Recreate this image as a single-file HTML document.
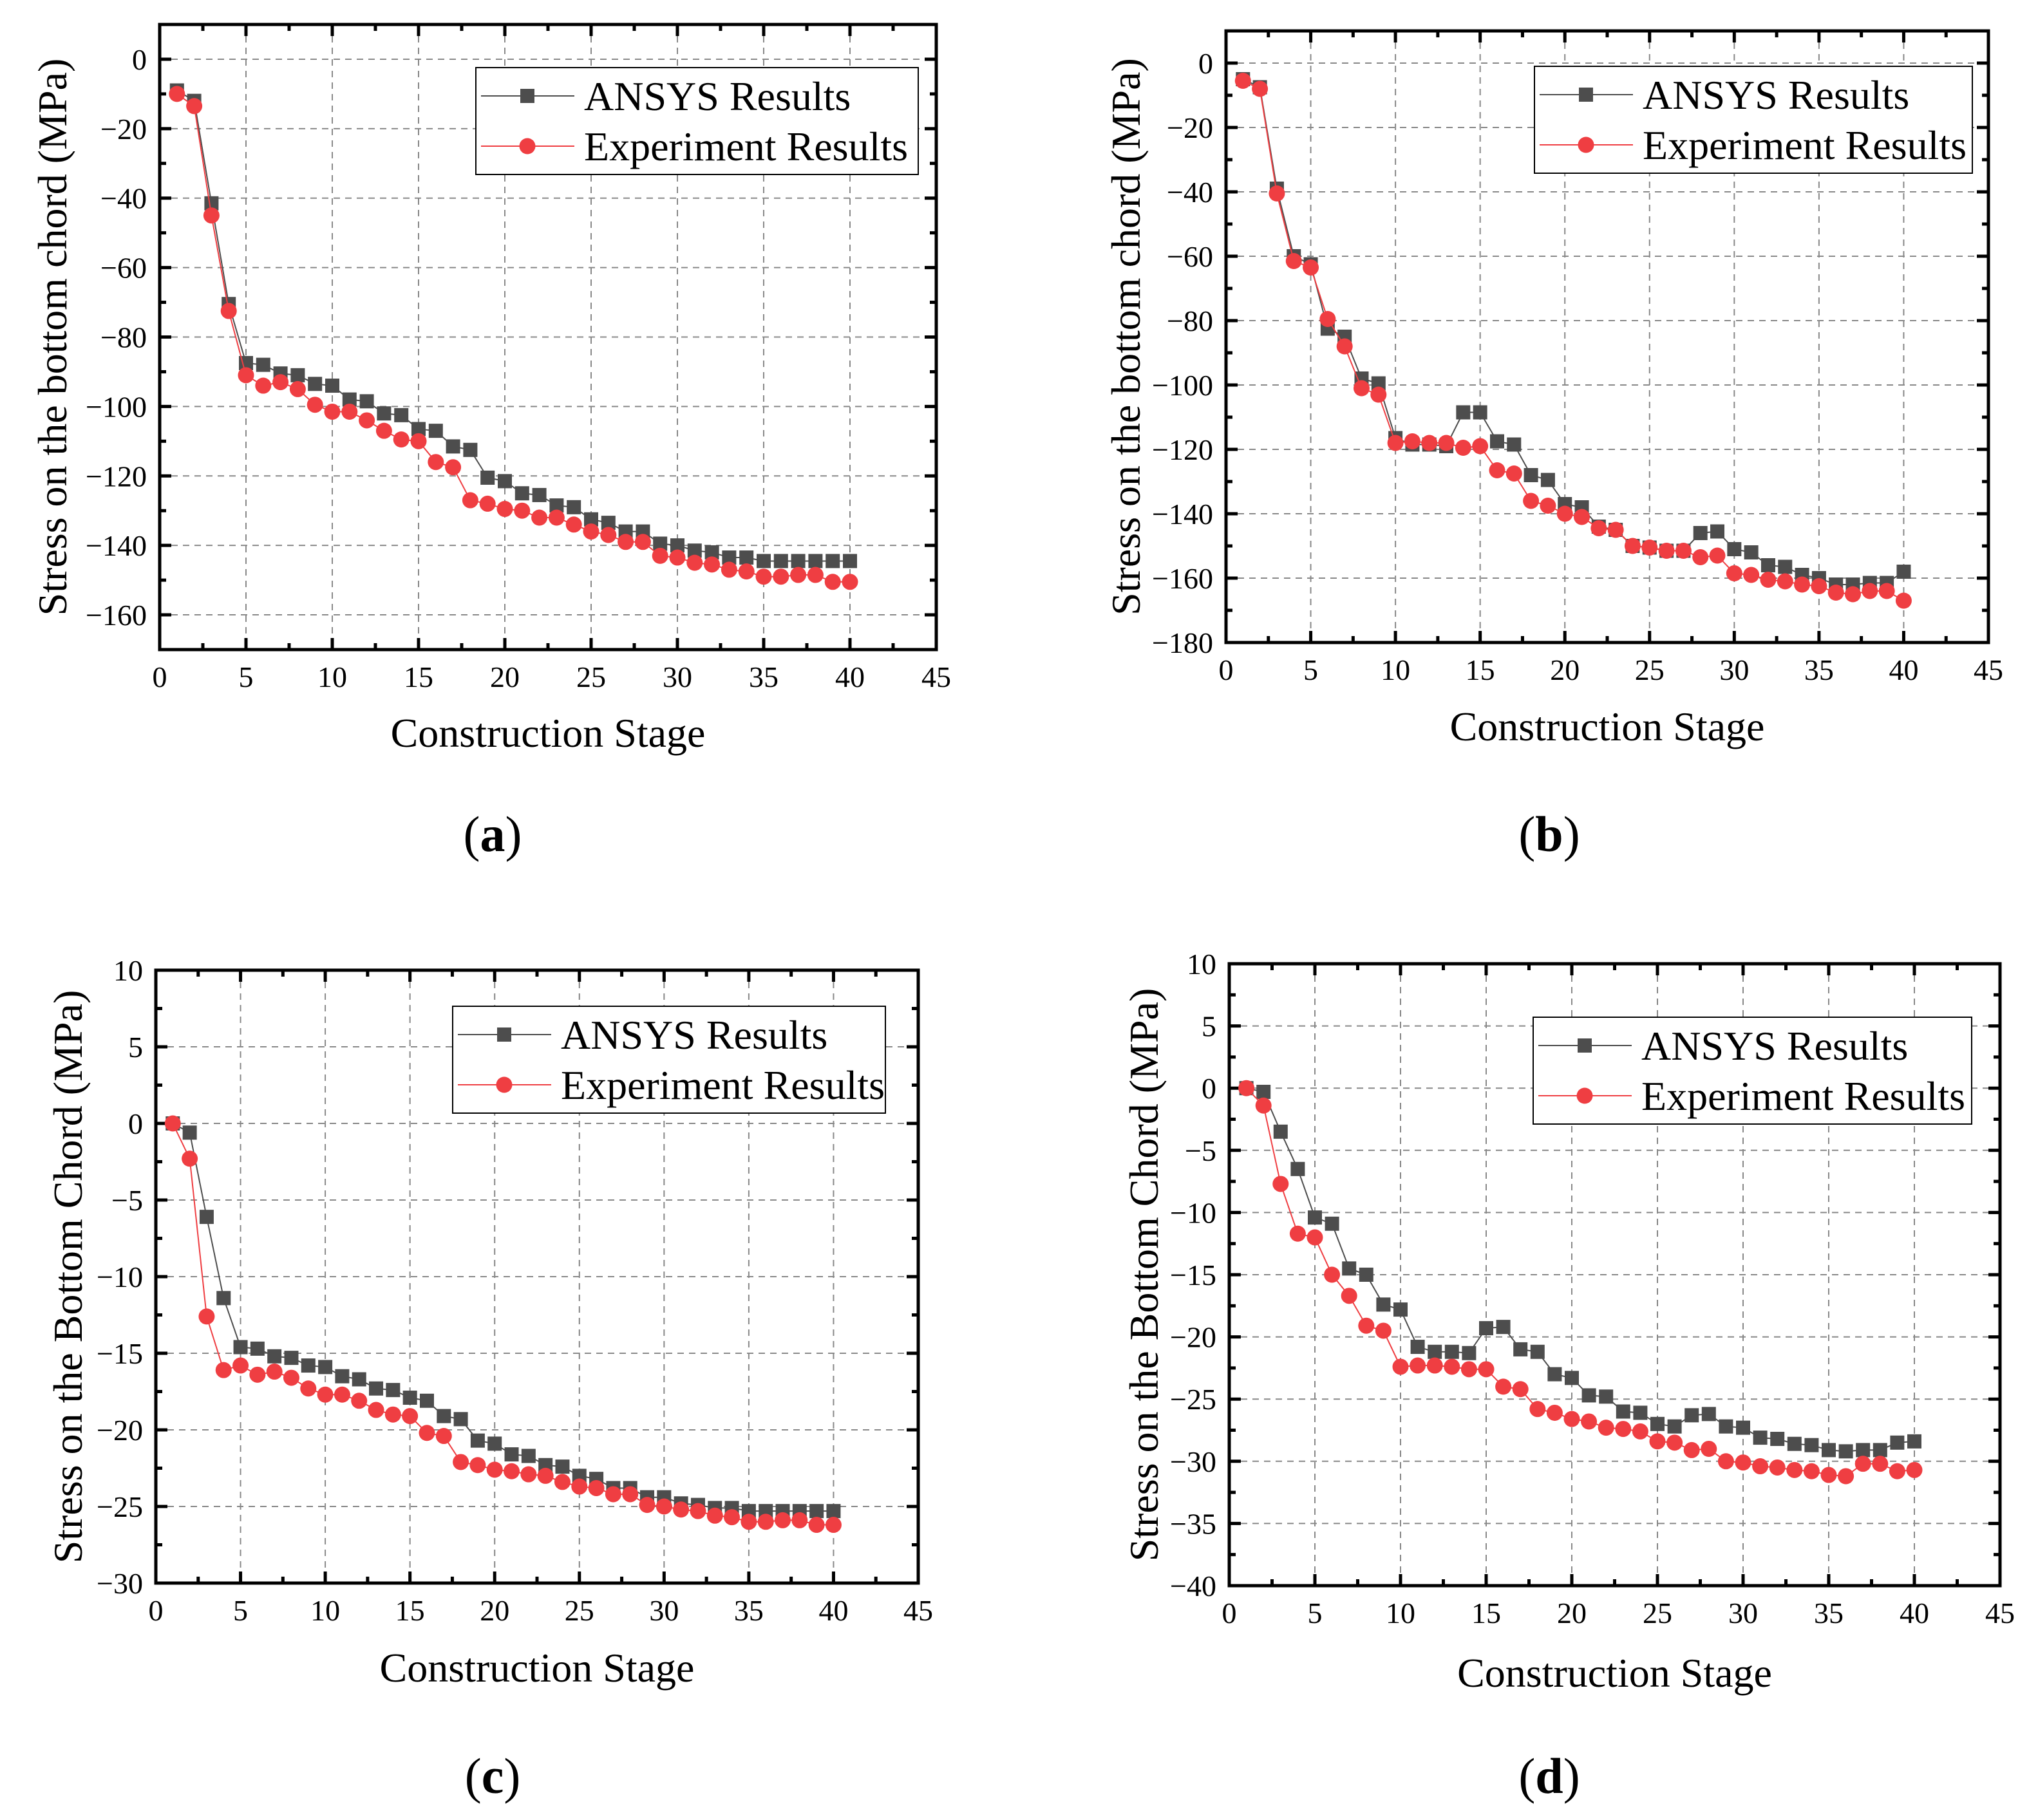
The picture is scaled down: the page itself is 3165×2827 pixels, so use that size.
<!DOCTYPE html>
<html><head><meta charset="utf-8">
<style>
html,body{margin:0;padding:0;background:#fff;}
svg{display:block;font-family:"Liberation Serif",serif;}
</style></head>
<body>
<svg id="fig" width="3165" height="2827" viewBox="0 0 3165 2827" xmlns="http://www.w3.org/2000/svg"></svg>
<script>
const stages = [];
for (let i = 1; i <= 40; i++) stages.push(i);
const ansysA = [-9,-12,-41.5,-70.5,-87.5,-88,-90.5,-91,-93.5,-94,-98,-98.5,-102,-102.5,-106.5,-107,-111.5,-112.5,-120.5,-121.5,-125,-125.5,-128.5,-129,-132.5,-133.5,-136,-136,-139.5,-140,-141.5,-142,-143.5,-143.5,-144.5,-144.5,-144.5,-144.5,-144.5,-144.5];
const expA = [-10,-13.5,-45,-72.5,-91,-94,-93,-95,-99.5,-101.5,-101.5,-104,-107,-109.5,-110,-116,-117.5,-127,-128,-129.5,-130,-132,-132,-134,-136,-137,-139,-139,-143,-143.5,-145,-145.5,-147,-147.5,-149,-149,-148.5,-148.5,-150.5,-150.5];
const ansysB = [-5,-7.5,-39,-60,-62.5,-82.5,-85,-98,-99.5,-116.5,-118.5,-118.5,-119,-108.5,-108.5,-117.5,-118.5,-128,-129.5,-137,-138,-144,-145,-150,-150.5,-151.5,-151.5,-146,-145.5,-151,-152,-156,-156.5,-159,-160,-162,-162,-161.5,-161.5,-158];
const expB = [-5.5,-8,-40.5,-61.5,-63.5,-79.5,-88,-101,-103,-118,-117.5,-118,-118,-119.5,-119,-126.5,-127.5,-136,-137.5,-140,-141,-144.5,-145,-150,-150.5,-151.5,-151.5,-153.5,-153,-158.5,-159,-160.5,-161,-162,-162.5,-164.5,-165,-164,-164,-167];
const ansysC = [0,-0.6,-6.1,-11.4,-14.6,-14.7,-15.2,-15.3,-15.8,-15.9,-16.5,-16.7,-17.3,-17.4,-17.9,-18.1,-19.1,-19.3,-20.7,-20.9,-21.6,-21.7,-22.3,-22.4,-23.0,-23.2,-23.8,-23.8,-24.4,-24.4,-24.8,-24.9,-25.1,-25.1,-25.3,-25.3,-25.3,-25.3,-25.3,-25.3];
const expC = [0,-2.3,-12.6,-16.1,-15.8,-16.4,-16.2,-16.6,-17.3,-17.7,-17.7,-18.1,-18.7,-19.0,-19.1,-20.2,-20.4,-22.1,-22.3,-22.6,-22.7,-22.9,-23.0,-23.4,-23.7,-23.8,-24.2,-24.2,-24.9,-25.0,-25.2,-25.3,-25.6,-25.7,-26.0,-26.0,-25.9,-25.9,-26.2,-26.2];
const ansysD = [0,-0.3,-3.5,-6.5,-10.4,-10.9,-14.5,-15.0,-17.4,-17.8,-20.8,-21.2,-21.2,-21.3,-19.3,-19.2,-21.0,-21.2,-23.0,-23.3,-24.7,-24.8,-26.0,-26.1,-27.0,-27.2,-26.3,-26.2,-27.2,-27.3,-28.1,-28.2,-28.6,-28.7,-29.1,-29.2,-29.1,-29.1,-28.5,-28.4];
const expD = [0,-1.4,-7.7,-11.7,-12.0,-15.0,-16.7,-19.1,-19.5,-22.4,-22.3,-22.3,-22.4,-22.6,-22.6,-24.0,-24.2,-25.8,-26.1,-26.6,-26.8,-27.3,-27.4,-27.6,-28.4,-28.5,-29.1,-29.0,-30.0,-30.1,-30.4,-30.5,-30.7,-30.8,-31.1,-31.2,-30.2,-30.2,-30.8,-30.7];
const xTicks = [0,5,10,15,20,25,30,35,40,45];
const yTicksA = [0,-20,-40,-60,-80,-100,-120,-140,-160];
const yTicksB = [0,-20,-40,-60,-80,-100,-120,-140,-160,-180];
const yTicksC = [10,5,0,-5,-10,-15,-20,-25,-30];
const yTicksD = [10,5,0,-5,-10,-15,-20,-25,-30,-35,-40];
const legendLabels = ["ANSYS Results","Experiment Results"];

const NS = "http://www.w3.org/2000/svg";
const svg = document.getElementById('fig');
function mk(tag, attrs, parent, text) {
  const e = document.createElementNS(NS, tag);
  for (const k in attrs) e.setAttribute(k, attrs[k]);
  if (text !== undefined) e.textContent = text;
  (parent || svg).appendChild(e);
  return e;
}
function fmt(v){ return v < 0 ? '\u2212' + Math.abs(v) : String(v); }

const panels = [
  {id:'a', L:248, R:1454, T:38, B:1009, ymin:-170, ymax:10, yt:yTicksA, ystep:20, an:ansysA, ex:expA,
   ytitle:'Stress on the bottom chord (MPa)', ytx:81, leg:[739,105,687], xtitleY:1160, lab:[765,1322]},
  {id:'b', L:1904, R:3088, T:48, B:998, ymin:-180, ymax:10, yt:yTicksB, ystep:20, an:ansysB, ex:expB,
   ytitle:'Stress on the bottom chord (MPa)', ytx:1748, leg:[2383,103,680], xtitleY:1150, lab:[2406,1322]},
  {id:'c', L:242, R:1426, T:1507, B:2459, ymin:-30, ymax:10, yt:yTicksC, ystep:5, an:ansysC, ex:expC,
   ytitle:'Stress on the Bottom Chord (MPa)', ytx:105, leg:[703,1563,672], xtitleY:2612, lab:[765,2785]},
  {id:'d', L:1909, R:3106, T:1497, B:2463, ymin:-40, ymax:10, yt:yTicksD, ystep:5, an:ansysD, ex:expD,
   ytitle:'Stress on the Bottom Chord (MPa)', ytx:1776, leg:[2381,1580,681], xtitleY:2620, lab:[2406,2785]}
];

panels.forEach(p => {
  const g = mk('g', {});
  
  
  const sx = v => p.L + (v - 0) / 45 * (p.R - p.L);
  const sy = v => p.T + (p.ymax - v) / (p.ymax - p.ymin) * (p.B - p.T);
  const grid = mk('g', {stroke:'#888', 'stroke-width':2, 'stroke-dasharray':'10,8'}, g);
  
  
  xTicks.slice(1, -1).forEach(t => mk('line', {x1:sx(t), x2:sx(t), y1:p.T, y2:p.B}, grid));
  p.yt.forEach(t => { if (t > p.ymin && t < p.ymax) mk('line', {x1:p.L, x2:p.R, y1:sy(t), y2:sy(t)}, grid); });
  const tk = mk('g', {stroke:'#000', 'stroke-width':5}, g);
  for (let t = 0; t <= 45; t += 2.5) {
    const len = (t % 5 === 0) ? 18 : 10;
    const x = sx(t);
    mk('line', {x1:x, x2:x, y1:p.B, y2:p.B - len}, tk);
    mk('line', {x1:x, x2:x, y1:p.T, y2:p.T + len}, tk);
  }
  for (let t = p.ymin; t <= p.ymax + 1e-9; t += p.ystep / 2) {
    const major = p.yt.indexOf(Math.round(t)) >= 0 && Math.abs(t - Math.round(t)) < 1e-9;
    const len = major ? 18 : 10;
    const y = sy(t);
    mk('line', {x1:p.L, x2:p.L + len, y1:y, y2:y}, tk);
    mk('line', {x1:p.R, x2:p.R - len, y1:y, y2:y}, tk);
  }
  const fr = mk('rect', {x:p.L, y:p.T, width:p.R - p.L, height:p.B - p.T, fill:'none', stroke:'#000', 'stroke-width':5}, g);
  
  
  xTicks.forEach(t => {
    const e = mk('text', {x:sx(t), y:p.B + 58, 'text-anchor':'middle', 'font-size':46}, g, String(t));
    
    
  });
  p.yt.forEach(t => {
    const e = mk('text', {x:p.L - 20, y:sy(t) + 16, 'text-anchor':'end', 'font-size':46}, g, fmt(t));
    
    
  });
  const xt = mk('text', {x:(p.L + p.R) / 2, y:p.xtitleY, 'text-anchor':'middle', 'font-size':64}, g, 'Construction Stage');
  
  
  const cy = (p.T + p.B) / 2;
  const yt = mk('text', {x:p.ytx, y:cy, 'text-anchor':'middle', 'font-size':64, transform:'rotate(-90 ' + p.ytx + ' ' + cy + ')', dy:22}, g, p.ytitle);
  
  
  const series = [
    {vals:p.an, color:'#4d4d4d', marker:'sq', name:'ansys'},
    {vals:p.ex, color:'#ef3e42', marker:'ci', name:'experiment'}
  ];
  series.forEach(s => {
    const sg = mk('g', {}, g);
    
    
    const pts = stages.map((st, i) => sx(st) + ',' + sy(s.vals[i])).join(' ');
    mk('polyline', {points:pts, fill:'none', stroke:s.color, 'stroke-width':2}, sg);
    stages.forEach((st, i) => {
      let m;
      if (s.marker === 'sq') m = mk('rect', {x:sx(st) - 11, y:sy(s.vals[i]) - 11, width:22, height:22, fill:s.color}, sg);
      else m = mk('circle', {cx:sx(st), cy:sy(s.vals[i]), r:12.5, fill:s.color}, sg);
      
      
    });
  });
  const [lx, ly, lw] = p.leg;
  const lg = mk('g', {}, g);
  
  
  mk('rect', {x:lx, y:ly, width:lw, height:166, fill:'#fff', stroke:'#000', 'stroke-width':2}, lg);
  [[0,'#4d4d4d','sq'],[1,'#ef3e42','ci']].forEach(([i, c, mkr]) => {
    const ent = mk('g', {}, lg);
    
    
    const yy = ly + 44 + i * 78;
    mk('line', {x1:lx + 8, x2:lx + 153, y1:yy, y2:yy, stroke:c, 'stroke-width':2}, ent);
    if (mkr === 'sq') mk('rect', {x:lx + 69, y:yy - 11, width:22, height:22, fill:c}, ent);
    else mk('circle', {cx:lx + 80, cy:yy, r:12.5, fill:c}, ent);
    mk('text', {x:lx + 168, y:yy + 22, 'font-size':64}, ent, legendLabels[i]);
  });
  const lb = mk('text', {x:p.lab[0], y:p.lab[1], 'text-anchor':'middle', 'font-size':78}, g);
  mk('tspan', {}, lb, '(');
  mk('tspan', {'font-weight':'bold'}, lb, p.id);
  mk('tspan', {}, lb, ')');
  
  
});
</script>
</body></html>
